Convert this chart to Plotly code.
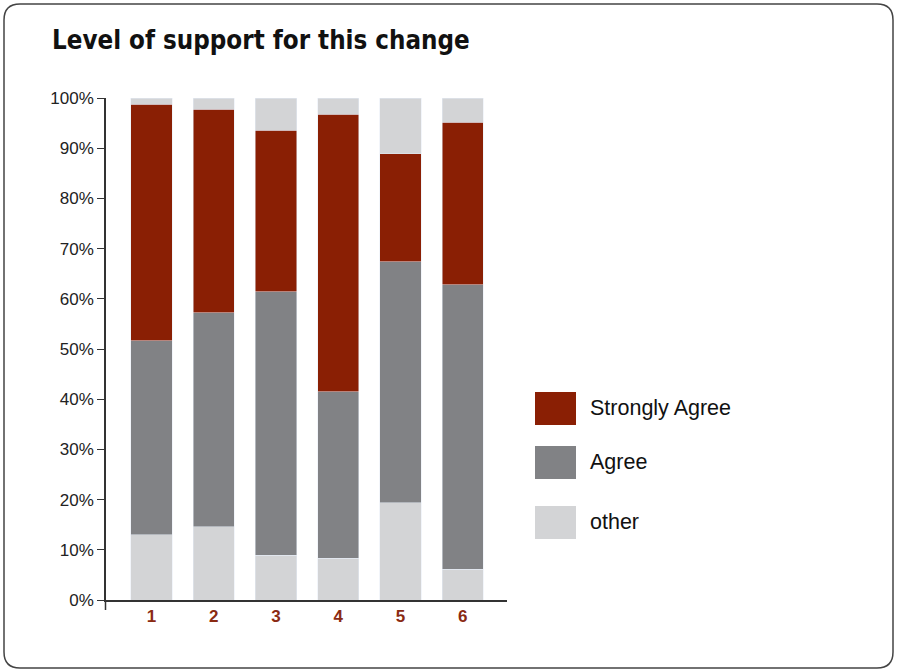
import plotly.graph_objects as go

categories = ["1", "2", "3", "4", "5", "6"]
other = [13.0, 14.6, 8.9, 8.3, 19.4, 6.1]
agree = [38.6, 42.6, 52.5, 33.2, 48.0, 56.7]
strongly_agree = [47.2, 40.6, 32.2, 55.3, 21.5, 32.4]
remainder = [1.2, 2.2, 6.4, 3.2, 11.1, 4.8]
y_ticks = [0, 10, 20, 30, 40, 50, 60, 70, 80, 90, 100]
y_tick_labels = ["0%", "10%", "20%", "30%", "40%", "50%", "60%", "70%", "80%", "90%", "100%"]
legend_names = ["Strongly Agree", "Agree", "other"]

RED = "#8a1f04"
GRAY = "#818285"
LIGHT = "#d3d4d6"

W, H = 897, 672
L, R, T, B = 106, 390, 98, 72
PW, PH = W - L - R, H - T - B


def px(x):
    return (x - L) / PW


def py(y):
    return (H - B - y) / PH


fig = go.Figure()
fig.add_bar(x=categories, y=other, marker_color=LIGHT, name="other", showlegend=False)
fig.add_bar(x=categories, y=agree, marker_color=GRAY, name="Agree", showlegend=False)
fig.add_bar(x=categories, y=strongly_agree, marker_color=RED, name="Strongly Agree", showlegend=False)
fig.add_bar(x=categories, y=remainder, marker_color=LIGHT, name="remainder", showlegend=False)

shapes = []
x0, x1, y0, y1, r = 4, 893, 4, 668, 16
path = (f"M {px(x0+r)},{py(y0)} L {px(x1-r)},{py(y0)} "
        f"Q {px(x1)},{py(y0)} {px(x1)},{py(y0+r)} L {px(x1)},{py(y1-r)} "
        f"Q {px(x1)},{py(y1)} {px(x1-r)},{py(y1)} L {px(x0+r)},{py(y1)} "
        f"Q {px(x0)},{py(y1)} {px(x0)},{py(y1-r)} L {px(x0)},{py(y0+r)} "
        f"Q {px(x0)},{py(y0)} {px(x0+r)},{py(y0)} Z")
shapes.append(dict(type="path", xref="paper", yref="paper", path=path,
                   line=dict(color="#444", width=1.5)))
shapes.append(dict(type="line", xref="paper", yref="paper", x0=px(105.5), x1=px(105.5),
                   y0=py(600), y1=py(610), line=dict(color="#333", width=1.5)))

annotations = [dict(text="Level of support for this change", xref="paper", yref="paper",
                    x=px(50), y=py(40), xanchor="left", yanchor="middle", showarrow=False,
                    font=dict(family="DejaVu Sans Condensed", size=25.7, color="#111", weight="bold"))]

legend_colors = [RED, GRAY, LIGHT]
legend_tops = [392, 446, 506]
for name, col, top in zip(legend_names, legend_colors, legend_tops):
    shapes.append(dict(type="rect", xref="paper", yref="paper", x0=px(535), x1=px(576),
                       y0=py(top), y1=py(top + 33), fillcolor=col, line=dict(width=0)))
    annotations.append(dict(text=name, xref="paper", yref="paper", x=px(588), y=py(top + 16),
                            xanchor="left", yanchor="middle", showarrow=False,
                            font=dict(family="Liberation Sans", size=21.5, color="#111")))

fig.update_layout(
    barmode="stack",
    bargap=0.34,
    width=W, height=H,
    margin=dict(l=L, r=R, t=T, b=B, autoexpand=False),
    paper_bgcolor="white", plot_bgcolor="white",
    shapes=shapes, annotations=annotations,
    showlegend=False,
)
fig.update_xaxes(type="category", range=[-0.73, 5.71], showline=True, linecolor="#333", linewidth=1.5,
                 ticks="", showgrid=False, zeroline=False,
                 tickfont=dict(family="Liberation Sans", size=17, color="#8a2a12", weight="bold"))
fig.update_yaxes(range=[0, 100], tickmode="array", tickvals=y_ticks, ticktext=y_tick_labels,
                 showline=True, linecolor="#333",
                 linewidth=1.5, ticks="outside", ticklen=7, tickcolor="#333", tickwidth=1.2,
                 showgrid=False, zeroline=False,
                 tickfont=dict(family="Liberation Sans", size=17, color="#222"))

fig.write_html("out.html")
